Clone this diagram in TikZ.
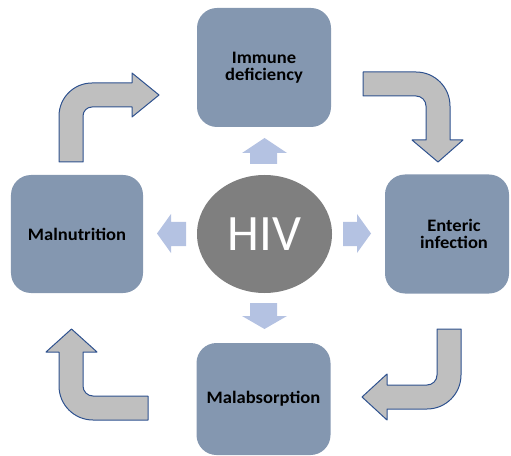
\documentclass[tikz,border=0pt]{standalone}
\usepackage{fontspec}
\setmainfont{Carlito}
\newfontfamily\stagefont{Carlito}[FakeStretch=1.06]
\usepackage{tikz}
\usetikzlibrary{shapes}
\definecolor{boxblue}{RGB}{132,151,176}
\definecolor{hivgrey}{RGB}{127,127,127}
\definecolor{pale}{RGB}{180,194,226}
\definecolor{bentfill}{RGB}{191,191,191}
\definecolor{bentline}{RGB}{47,82,143}
\tikzset{
  stagetext/.style={align=center, inner sep=0pt,
    font=\stagefont\fontsize{17.5bp}{17bp}\selectfont\bfseries},
  stage/.style={stagetext, rectangle, rounded corners=20bp, fill=boxblue,
    minimum width=134bp, minimum height=119bp},
  pointer/.style={fill=pale},
  bent/.style={fill=bentfill, draw=bentline, line width=1bp, line join=round}
}

\begin{document}
\begin{tikzpicture}[x=1bp,y=-1bp]
  \useasboundingbox (0,0) rectangle (511,456);

  % the four stages
  \node [stage] (immune) at (264,67.5) {Immune\\deficiency};
  \node [stage, minimum width=124bp] (enteric) at (447,234) {};
  \node [stagetext] (entericText) at (454,234) {Enteric\\infection};
  \node [stage, minimum height=112bp] (malabs) at (263.5,399) {Malabsorption};
  \node [stage, minimum width=132bp, minimum height=118bp] (malnut) at (77,234) {Malnutrition};

  % centre
  \node [ellipse, fill=hivgrey, minimum width=135bp, minimum height=118bp,
    text=white, font=\fontsize{51bp}{51bp}\selectfont] (hiv) at (264.5,234) {HIV};

  % small arrows out of the centre
  \fill [pointer] (250,164) -- (250,153) -- (242,153) -- (264.5,138) -- (287,153) -- (277,153) -- (277,164) -- cycle;
  \fill [pointer] (250,303) -- (250,316) -- (242,316) -- (264.5,329) -- (287,316) -- (277,316) -- (277,303) -- cycle;
  \fill [pointer] (343,222) -- (357,222) -- (357,214) -- (371,233.5) -- (357,253) -- (357,246) -- (343,246) -- cycle;
  \fill [pointer] (186,222) -- (171,222) -- (171,214) -- (157,233.5) -- (171,253) -- (171,246) -- (186,246) -- cycle;

  % bent arrows round the cycle
  \draw [bent] (59,162) -- (59,116) arc [start angle=180, end angle=270, radius=33]
    -- (132,83) -- (132,73) -- (159,95) -- (132,117) -- (132,107) -- (92,107)
    arc [start angle=270, end angle=180, radius=9] -- (83,162) -- cycle;
  \draw [bent] (363,72) -- (416,72) arc [start angle=270, end angle=360, radius=34]
    -- (450,140) -- (463,140) -- (438,162) -- (412,140) -- (426,140) -- (426,106)
    arc [start angle=0, end angle=-90, radius=10] -- (363,96) -- cycle;
  \draw [bent] (437,329) -- (461,329) -- (461,375) arc [start angle=0, end angle=90, radius=34]
    -- (387,409) -- (387,420) -- (362,397) -- (387,374) -- (387,385) -- (427,385)
    arc [start angle=90, end angle=0, radius=10] -- cycle;
  \draw [bent] (148,396) -- (148,420) -- (93,420) arc [start angle=90, end angle=180, radius=34]
    -- (59,352) -- (46,352) -- (71.5,329) -- (97,352) -- (83,352) -- (83,386)
    arc [start angle=180, end angle=90, radius=10] -- cycle;
\end{tikzpicture}
\end{document}
